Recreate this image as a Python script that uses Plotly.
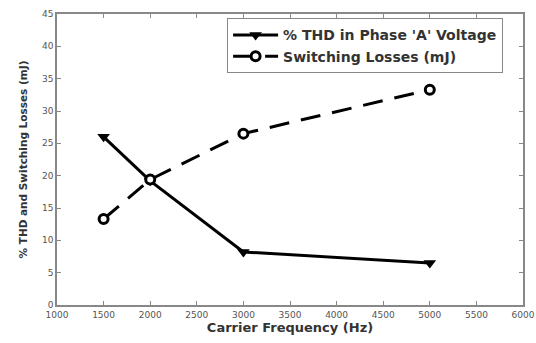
import plotly.graph_objects as go

freq = [1500, 2000, 3000, 5000]
thd = [26.0, 19.2, 8.2, 6.5]
losses = [13.3, 19.4, 26.5, 33.3]
x_ticks = [1000, 1500, 2000, 2500, 3000, 3500, 4000, 4500, 5000, 5500, 6000]
y_ticks = [0, 5, 10, 15, 20, 25, 30, 35, 40, 45]

FONT = "DejaVu Sans"

fig = go.Figure()
fig.add_trace(go.Scatter(
    x=freq, y=thd, mode="lines+markers", name="<b>% THD in Phase 'A' Voltage</b>",
    line=dict(color="black", width=3),
    marker=dict(symbol="triangle-down", size=11, color="black"),
))
fig.add_trace(go.Scatter(
    x=freq, y=losses, mode="lines+markers", name="<b>Switching Losses (mJ)</b>",
    line=dict(color="black", width=3, dash="20px,12px"),
    marker=dict(symbol="circle", size=9, color="white", line=dict(color="black", width=3)),
))

axis_common = dict(
    showgrid=False, zeroline=False, showline=True, linecolor="#888", linewidth=1.5,
    mirror="ticks", ticks="inside", ticklen=4, tickcolor="#888",
    tickfont=dict(family=FONT, size=9, color="#555"),
    automargin=False, ticklabeloverflow="allow",
)
fig.update_xaxes(range=[1000, 6000], tickvals=x_ticks,
                 title=dict(text="<b>Carrier Frequency (Hz)</b>", standoff=4,
                            font=dict(family=FONT, size=13, color="#333")),
                 **axis_common)
fig.update_yaxes(range=[0, 45], tickvals=y_ticks,
                 title=dict(text="<b>% THD and Switching Losses (mJ)</b>", standoff=12,
                            font=dict(family=FONT, size=10.5, color="#333")),
                 **axis_common)

fig.update_layout(
    width=536, height=343,
    margin=dict(l=57, r=13, t=14, b=38),
    plot_bgcolor="white", paper_bgcolor="white",
    legend=dict(x=0.365, y=0.985, xanchor="left", yanchor="top",
                bgcolor="white", bordercolor="#888", borderwidth=1,
                font=dict(family=FONT, size=14, color="#333"),
                itemwidth=45, tracegroupgap=0),
    showlegend=True,
)
fig.write_html("out.html")
